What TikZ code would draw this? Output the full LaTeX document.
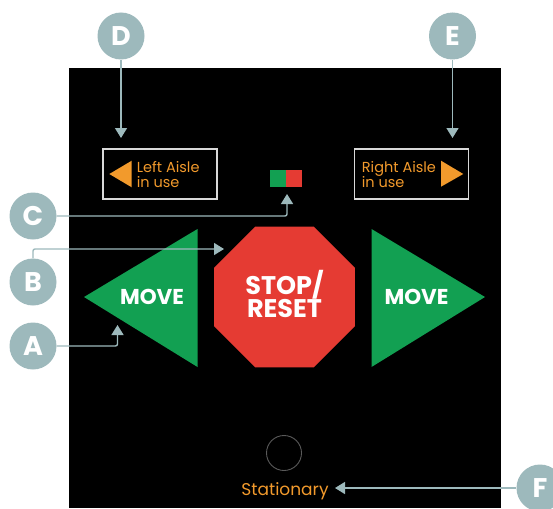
\documentclass[tikz,border=0pt]{standalone}
\usepackage{fontspec}
\setmainfont{Poppins}
\usepackage{tikz}
\usetikzlibrary{shapes.geometric,arrows.meta,positioning}
\usepackage{xcolor}
\definecolor{callgrey}{HTML}{9DB9BC}
\definecolor{movegreen}{HTML}{12A052}
\definecolor{stopred}{HTML}{E53B33}
\definecolor{aisleorange}{HTML}{F29A2C}
\definecolor{lampgrey}{HTML}{5A5A5A}

\begin{document}
\begin{tikzpicture} [
      x = 1pt, y = -1pt,
      callout/.style = { circle, fill = callgrey, text = white, minimum size = 47pt, inner sep = 0, font = \fontsize{27}{27}\selectfont\bfseries },
      callout line/.style = { draw = callgrey, line width = 1.4pt, -{Triangle[width=12pt,length=10pt]} },
      aislebox/.style = { draw = white!85!black, line width = 1.3pt, minimum width = 114pt, minimum height = 50pt, inner sep = 0 },
      aisletext/.style = { text = aisleorange, align = left, inner sep = 0, font = \fontsize{14.5}{15}\selectfont },
      movetext/.style = { text = white, inner sep = 0, font = \fontsize{21.5}{21.5}\selectfont\bfseries }
      ]
    
      \useasboundingbox (0,0) rectangle (553,508);
      \fill[black] (69,68) rectangle (501,508);

      % aisle boxes
      \node [aislebox] (leftbox) at (160,174) {};
      \fill [aisleorange] (109.3,174) -- (131.7,160.7) -- (131.7,187.3) -- cycle;
      \node [aisletext, anchor = west] (lefttext) at (136.7,174.5) {Left Aisle\\in use};
      \node [aislebox] (rightbox) at (411.7,174) {};
      \fill [aisleorange] (441,160.7) -- (463.3,174) -- (441,186.7) -- cycle;
      \node [aisletext, anchor = west] (righttext) at (361.7,174.5) {Right Aisle\\in use};

      % status light
      \node [fill = movegreen, minimum width = 16pt, minimum height = 17pt, inner sep = 0] (ledgreen) at (278,178.5) {};
      \node [fill = stopred, minimum width = 16pt, minimum height = 17pt, inner sep = 0] (ledred) at (294,178.5) {};

      % buttons
      \fill [movegreen] (84,297) -- (197.5,229) -- (197.5,367) -- cycle;
      \node [movetext, anchor = base] (leftmove) at (152,304) {MOVE};
      \fill [movegreen] (485,297) -- (371.5,229) -- (371.5,367) -- cycle;
      \node [movetext, anchor = base] (rightmove) at (416.5,304) {MOVE};
      \node [regular polygon, regular polygon sides = 8, minimum size = 152.6pt, inner sep = 0, fill = stopred] (stop) at (284.5,297) {};
      \node [text = white, inner sep = 0, align = center, font = \fontsize{25.5}{23.3}\selectfont\bfseries] (stoptext) at (284.5,294) {STOP/\\RESET};

      \node [circle, draw = lampgrey, line width = 0.9pt, minimum size = 35pt, inner sep = 0] (lamp) at (284,453) {};
      \node [text = aisleorange, inner sep = 0, anchor = base, font = \fontsize{17}{17}\selectfont] (stationary) at (285,495) {Stationary};

      % callouts
      \node [callout] (D) at (121,36) {D};
      \node [callout] (E) at (452.5,36) {E};
      \node [callout] (C) at (33,216) {C};
      \node [callout] (B) at (33,282) {B};
      \node [callout] (A) at (33,346) {A};
      \node [callout] (F) at (540,488) {F};

      \coordinate (dtip) at (121,138);
      \coordinate (etip) at (452.5,138);
      \coordinate (ctip) at (287,194);
      \coordinate (btip) at (224,249);
      \coordinate (atip) at (117.5,325);
      \coordinate (ftip) at (335,488);

      \draw [callout line] (D) -- (dtip);
      \draw [callout line] (E) -- (etip);
      \draw [callout line, rounded corners = 2pt] (C) -| (ctip);
      \draw [callout line, rounded corners = 2pt] (B) |- (btip);
      \draw [callout line, rounded corners = 2pt] (A) -| (atip);
      \draw [callout line] (F) -- (ftip);
    \end{tikzpicture}
\end{document}
